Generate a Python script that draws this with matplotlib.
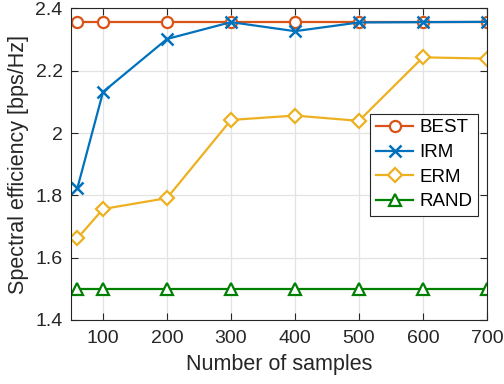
import matplotlib
matplotlib.use("Agg")
import matplotlib.pyplot as plt
from matplotlib.ticker import FuncFormatter

plt.rcParams['font.family'] = ['Liberation Sans', 'DejaVu Sans']

samples = [60, 100, 200, 300, 400, 500, 600, 700]
best = [2.357, 2.357, 2.357, 2.357, 2.357, 2.357, 2.357, 2.357]
irm = [1.824, 2.132, 2.302, 2.356, 2.327, 2.355, 2.356, 2.357]
erm = [1.662, 1.756, 1.791, 2.042, 2.056, 2.039, 2.243, 2.239]
rand = [1.5, 1.5, 1.5, 1.5, 1.5, 1.5, 1.5, 1.5]

fig = plt.figure(figsize=(5.04, 3.84), dpi=100)
ax = fig.add_axes([0.141, 0.167, 0.825, 0.811])

dark = '#262626'
ax.plot(samples, best, '-o', color='#D95319', lw=1.6, ms=8, mew=1.6, mfc='white', label='BEST')
ax.plot(samples, irm, '-x', color='#0072BD', lw=1.6, ms=8, mew=1.8, label='IRM')
ax.plot(samples, erm, '-D', color='#EDB120', lw=1.6, ms=7, mew=1.6, mfc='white', label='ERM')
ax.plot(samples, rand, '-^', color='#008000', lw=1.6, ms=8, mew=1.6, mfc='white', label='RAND')

ax.set_xlim(50, 700)
ax.set_ylim(1.4, 2.4)
ax.set_xticks([100, 200, 300, 400, 500, 600, 700])
ax.set_yticks([1.4, 1.6, 1.8, 2.0, 2.2, 2.4])
ax.yaxis.set_major_formatter(FuncFormatter(lambda v, p: '%g' % round(v, 2)))
ax.grid(True, color='#e3e3e3', lw=0.9)
ax.set_axisbelow(True)
ax.tick_params(direction='in', top=True, right=True, labelsize=14, colors=dark, length=5)
ax.tick_params(axis='x', pad=7)
ax.tick_params(axis='y', pad=6)
for s in ax.spines.values():
    s.set_color(dark)
    s.set_linewidth(0.8)

ax.set_xlabel('Number of samples', fontsize=15.5, color=dark, labelpad=5)
ax.set_ylabel('Spectral efficiency [bps/Hz]', fontsize=15.5, color=dark, labelpad=5)

leg = ax.legend(loc='upper right', bbox_to_anchor=(0.978, 0.662), fontsize=13.5,
                fancybox=False, framealpha=1, edgecolor=dark, handlelength=2.0,
                handletextpad=0.3, borderpad=0.3, labelspacing=0.4, borderaxespad=0)
leg.get_frame().set_linewidth(0.8)

fig.savefig('out.png', dpi=100)
